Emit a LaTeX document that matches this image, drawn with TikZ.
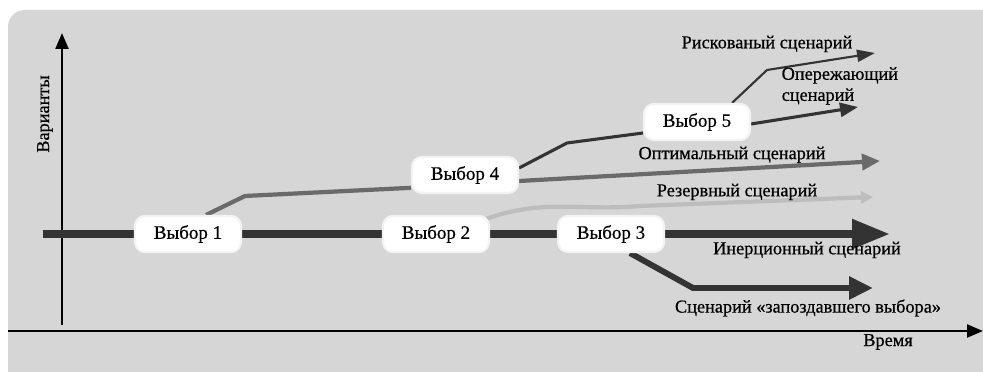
\documentclass[tikz,border=0pt]{standalone}
\usepackage{fontspec}
\setmainfont{Liberation Serif}[FakeBold=0.6]
\usetikzlibrary{positioning,backgrounds,arrows.meta}

\definecolor{bggray}{HTML}{D6D6D6}
\definecolor{bardark}{HTML}{333333}
\definecolor{midgray}{HTML}{6A6A6A}
\definecolor{lightline}{HTML}{BDBDBD}

\tikzset{
  choice/.style={fill=white,draw=white!70!bggray,line width=1.5pt,rounded corners=7pt,
    minimum width=2.65cm,minimum height=0.9cm,inner sep=2pt,
    font=\fontsize{13.5}{15}\selectfont},
  lbl/.style={inner sep=1pt,font=\fontsize{13}{15}\selectfont},
  axis/.style={line width=2pt,-{Triangle[length=0.4cm,width=0.32cm]}},
}

\begin{document}
\begin{tikzpicture}
  \useasboundingbox (0,0) rectangle (24.575,9.3);

  % the choices
  \node[choice] (v1) at (4.7,3.45)    {Выбор 1};
  \node[choice] (v2) at (10.9,3.45)   {Выбор 2};
  \node[choice] (v3) at (15.275,3.45) {Выбор 3};
  \node[choice] (v4) at (11.625,4.925) {Выбор 4};
  \node[choice] (v5) at (17.425,6.25) {Выбор 5};

  % scenario names
  \node[lbl] (risk) at (19.175,8.2)  {Рискованый сценарий};
  \node[lbl,anchor=west,align=left] (lead) at (19.5,7.15)
    {Опережающий\\[0pt]сценарий};
  \node[lbl] (opt)  at (18.3,5.43)   {Оптимальный сценарий};
  \node[lbl] (res)  at (18.425,4.5)  {Резервный сценарий};
  \node[lbl] (iner) at (20.175,3.05) {Инерционный сценарий};
  \node[lbl] (late) at (20.2,1.6)    {Сценарий «запоздавшего выбора»};

  % axes
  \coordinate (yfoot) at (1.55,1.175);
  \coordinate (ytop)  at (1.55,8.475);
  \coordinate (xfoot) at (0.2,1.025);
  \coordinate (xtip)  at (24.575,1.025);
  \node[lbl,rotate=90] (yname) at (1.125,6.45) {Варианты};
  \node[lbl] (xname) at (22.2,0.75) {Время};

  % end points of the scenarios
  \coordinate (barstart) at (1.075,3.45);
  \coordinate (bartip)   at (22.25,3.45);
  \coordinate (opttip)   at (22.0,5.275);
  \coordinate (restip)   at (21.825,4.375);
  \coordinate (leadtip)  at (21.45,6.625);
  \coordinate (risktip)  at (21.875,7.975);
  \coordinate (latetip)  at (21.825,2.1);

  \begin{scope}[on background layer]
    \fill[bggray,rounded corners=12pt] (0.2,-0.5) rectangle (25,9.05);

    \draw[axis] (yfoot) -- (ytop);
    \draw[axis] (xfoot) -- (xtip);

    % inertia
    \draw[bardark,line width=0.2cm,-{Triangle[length=0.95cm,width=0.7cm]}]
      (barstart) -- (bartip);

    % reserve
    \draw[lightline,line width=3pt,-{Triangle[length=0.3cm,width=0.3cm]}]
      ([xshift=-0.1cm,yshift=-0.1cm]v2.north east) to[out=20,in=185] (16,4.15) -- (restip);

    % late choice
    \draw[bardark,line width=4.2pt,-{Triangle[length=0.6cm,width=0.55cm]}]
      ([xshift=0.475cm]v3.south) -- (17.325,2.1) -- (latetip);

    % optimum
    \draw[midgray,line width=3pt]
      ([xshift=-0.9cm]v1.north east) -- (6.125,4.4) -- ([yshift=-0.32cm]v4.west);
    \draw[midgray,line width=3pt,-{Triangle[length=0.45cm,width=0.4cm]}]
      ([yshift=-0.15cm]v4.east) -- (opttip);

    % lead and risk
    \draw[bardark,line width=2.2pt]
      ([yshift=0.175cm]v4.east) -- (14.175,5.725) -- ([yshift=-0.275cm]v5.west);
    \draw[bardark,line width=2.2pt,-{Triangle[length=0.45cm,width=0.35cm]}]
      ([yshift=-0.05cm]v5.east) -- (leadtip);
    \draw[bardark,line width=1.5pt,-{Triangle[length=0.45cm,width=0.3cm]}]
      ([xshift=0.875cm]v5.north) -- (19.175,7.55) -- (risktip);
  \end{scope}
\end{tikzpicture}
\end{document}
